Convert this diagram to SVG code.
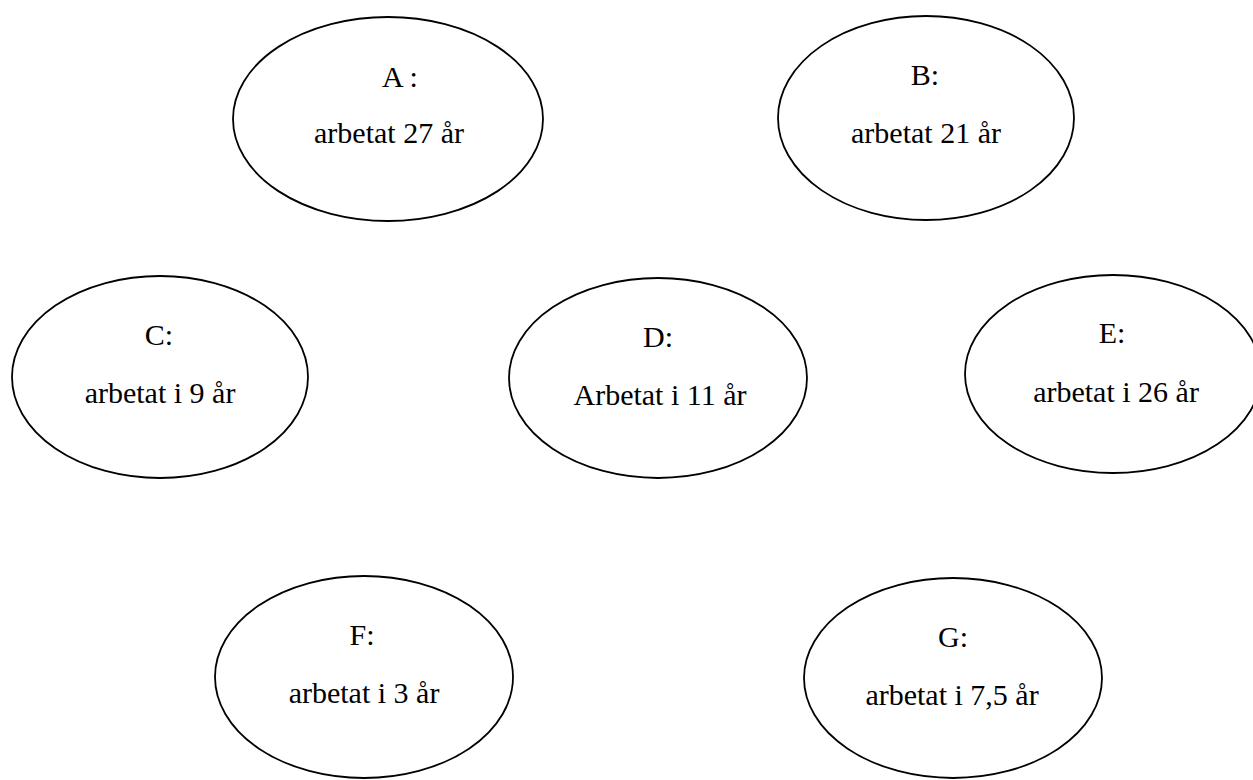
<svg xmlns="http://www.w3.org/2000/svg" width="1253" height="780" viewBox="0 0 1253 780">
<style>
ellipse{fill:#fff;stroke:#000;stroke-width:1.8}
text{font-family:"Liberation Serif","Times New Roman",serif;font-size:30px;fill:#000;text-anchor:middle}
</style>
<rect width="1253" height="780" fill="#fff"/>
<g id="connectors"></g>
<g id="nodeA"><ellipse cx="388" cy="119" rx="155" ry="102"/><text x="400" y="87">A :</text><text x="389" y="143">arbetat 27 år</text></g>
<g id="nodeB"><ellipse cx="926" cy="118" rx="148" ry="102"/><text x="925" y="85">B:</text><text x="926" y="143">arbetat 21 år</text></g>
<g id="nodeC"><ellipse cx="160" cy="377" rx="148" ry="101"/><text x="159" y="345">C:</text><text x="160" y="403">arbetat i 9 år</text></g>
<g id="nodeD"><ellipse cx="658" cy="378" rx="149" ry="100"/><text x="658" y="347">D:</text><text x="660" y="405">Arbetat i 11 år</text></g>
<g id="nodeE"><ellipse cx="1113" cy="374" rx="148" ry="99"/><text x="1112" y="343">E:</text><text x="1116" y="402">arbetat i 26 år</text></g>
<g id="nodeF"><ellipse cx="364" cy="677" rx="149" ry="101"/><text x="362" y="645">F:</text><text x="364" y="703">arbetat i 3 år</text></g>
<g id="nodeG"><ellipse cx="953" cy="678" rx="149" ry="100"/><text x="953" y="647">G:</text><text x="952" y="705">arbetat i 7,5 år</text></g>
</svg>
